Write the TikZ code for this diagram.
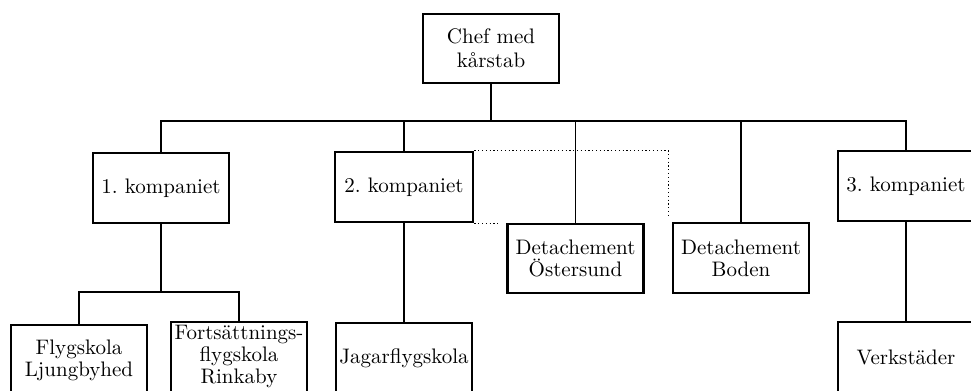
\documentclass[tikz,border=0pt]{standalone}
\usepackage{tikz}
\usetikzlibrary{calc}

\begin{document}
\begin{tikzpicture}[x=0.5pt,y=-0.5pt,
    unit/.style={draw,line width=1.4pt,minimum width=68pt,minimum height=35pt,
      inner sep=0pt,align=center,font=\fontsize{10.5}{11}\selectfont},
    conn/.style={line width=0.55pt},
    liaison/.style={line width=0.6pt,dash pattern=on 0.6pt off 1.3pt}]
  \clip (0,0) rectangle (971,391);
  %boxes
  \node[unit,minimum height=34.5pt] (chef) at (491,48.5) {Chef med\\[1pt]kårstab};
  \node[unit] (k1) at (161,188) {1.\ kompaniet};
  \node[unit,minimum width=69pt] (k2) at (404,187) {2.\ kompaniet};
  \node[unit] (k3) at (906,186) {3.\ kompaniet};
  \node[unit,minimum height=34.5pt] (ost) at (575.5,258.5) {Detachement\\Östersund};
  \node[unit] (bod) at (741,258) {Detachement\\Boden};
  \node[unit] (fly) at (79,360) {Flygskola\\Ljungbyhed};
  \node[unit] (fort) at (239,357) {Fortsättnings-\\flygskola\\Rinkaby};
  \node[unit] (jag) at (404,358) {Jagarflygskola};
  \node[unit] (verk) at (906,357) {Verkstäder};
  \coordinate (bus) at (491,121);
  \coordinate (sub) at (161,292);
  %lines
  \draw[conn] (chef.south) -- (chef.south |- bus);
  \draw[conn] (k1.north) -- (k1.north |- bus) -- (k3.north |- bus) -- (k3.north);
  \foreach \n in {k2,ost,bod}
  \draw[conn] (\n.north) -- (\n.north |- bus);
  \draw[conn] (k1.south) -- (sub);
  \draw[conn] (fly.north) |- (sub) -| (fort.north);
  \draw[conn] (k2.south) -- (jag.north);
  \draw[conn] (k3.south) -- (verk.north);
  %dotted links
  \draw[liaison] (k2.north east) -- ($(bod.north west |- k2.north east)+(-3,0)$)
      -- ($(bod.north west)+(-3,-5)$);
  \draw[liaison] (k2.south east) -- ($(ost.north west |- k2.south east)+(-8,0)$);
\end{tikzpicture}
\end{document}
